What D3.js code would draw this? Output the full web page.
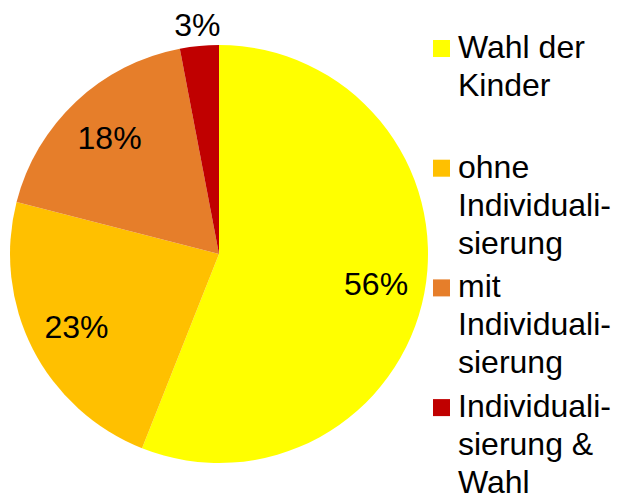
<!DOCTYPE html>
<html>
<head>
<meta charset="utf-8">
<script src="https://cdn.jsdelivr.net/npm/d3@7"></script>
<style>
    body { margin: 0; background: #fff; }
    svg { display: block; font-family: "Liberation Sans", Arial, sans-serif; }
</style>
</head>
<body>
<div id="chart"></div>
<script>
// data
const categories = ["Wahl der Kinder", "ohne Individualisierung", "mit Individualisierung", "Individualisierung & Wahl"];
const values = [56, 23, 18, 3];
const colors = ["#FFFF00", "#FFC000", "#E67E2A", "#C00000"];
// legend text, broken the way the picture breaks it
const legendLines = [
    ["Wahl der", "Kinder"],
    ["ohne", "Individuali-", "sierung"],
    ["mit", "Individuali-", "sierung"],
    ["Individuali-", "sierung &", "Wahl"]
];

const width = 619, height = 503;
const cx = 219, cy = 254, radius = 209;

const svg = d3.select("#chart").append("svg")
    .attr("width", width)
    .attr("height", height);

const data = categories.map((c, i) => ({ name: c, value: values[i], color: colors[i], lines: legendLines[i] }));

const pie = d3.pie()
    .value(d => d.value)
    .sort(null);

const arc = d3.arc()
    .innerRadius(0)
    .outerRadius(radius);

const labelArc = d3.arc()
    .innerRadius(radius * 0.765)
    .outerRadius(radius * 0.765);

const outerLabelArc = d3.arc()
    .innerRadius(radius * 1.1)
    .outerRadius(radius * 1.1);

const g = svg.append("g")
    .attr("transform", `translate(${cx},${cy})`);

const arcs = pie(data);

g.selectAll("path")
    .data(arcs)
    .enter().append("path")
    .attr("d", arc)
    .attr("fill", d => d.data.color);

g.selectAll("text.pct")
    .data(arcs)
    .enter().append("text")
    .attr("class", "pct")
    .attr("transform", d => {
        const p = d.data.value < 5 ? outerLabelArc.centroid(d) : labelArc.centroid(d);
        return `translate(${p[0]},${p[1]})`;
    })
    .attr("text-anchor", "middle")
    .attr("dy", "0.35em")
    .attr("font-size", 32)
    .attr("fill", "#000")
    .text(d => d.data.value + "%");

// legend
const legendX = 433, legendTop = 58, itemStep = 119.7, lineStep = 38;

const legend = svg.selectAll("g.legend")
    .data(data)
    .enter().append("g")
    .attr("class", "legend")
    .attr("transform", (d, i) => `translate(${legendX},${legendTop + i * itemStep})`);

legend.append("rect")
    .attr("x", 0)
    .attr("y", -18)
    .attr("width", 17)
    .attr("height", 17)
    .attr("fill", d => d.color);

legend.append("text")
    .attr("x", 25)
    .attr("font-size", 32)
    .attr("fill", "#000")
    .selectAll("tspan")
    .data(d => d.lines)
    .enter().append("tspan")
    .attr("x", 25)
    .attr("y", (d, i) => i * lineStep)
    .text(d => d);
</script>
</body>
</html>
